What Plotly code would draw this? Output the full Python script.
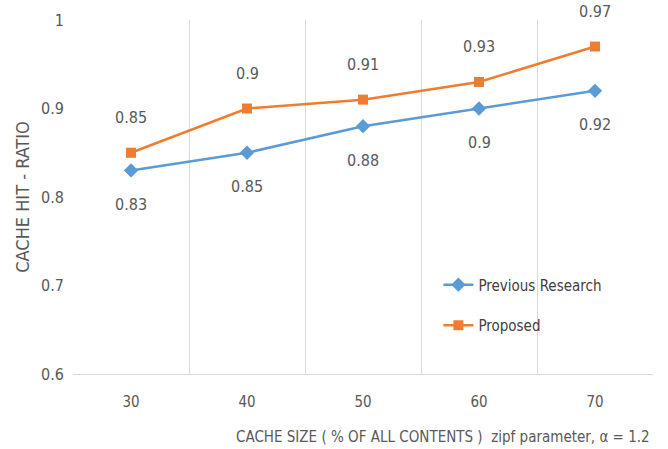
import plotly.graph_objects as go

cache_size = [30, 40, 50, 60, 70]
previous = [0.83, 0.85, 0.88, 0.90, 0.92]
proposed = [0.85, 0.90, 0.91, 0.93, 0.97]
prev_labels = ["0.83", "0.85", "0.88", "0.9", "0.92"]
prop_labels = ["0.85", "0.9", "0.91", "0.93", "0.97"]
y_ticks = [0.6, 0.7, 0.8, 0.9, 1.0]
y_tick_text = ["0.6", "0.7", "0.8", "0.9", "1"]
x_title = "CACHE SIZE ( % OF ALL CONTENTS )  zipf parameter, \u03b1 = 1.2"

BLUE = "#5B9BD5"
ORANGE = "#ED7D31"
GREY = "#595959"
GRID = "#D9D9D9"
FONT = "DejaVu Sans Condensed"

fig = go.Figure()
fig.add_trace(go.Scatter(
    x=cache_size, y=previous, name="Previous Research", mode="lines+markers",
    line=dict(color=BLUE, width=2.5),
    marker=dict(symbol="diamond", size=11, color=BLUE),
    legendgroup="a",
))
fig.add_trace(go.Scatter(
    x=cache_size, y=proposed, name="Proposed", mode="lines+markers",
    line=dict(color=ORANGE, width=2.5),
    marker=dict(symbol="square", size=10, color=ORANGE),
    legendgroup="b",
))

for x, y, t in zip(cache_size, previous, prev_labels):
    fig.add_annotation(x=x, y=y, text=t, showarrow=False, yshift=-34,
                       font=dict(family=FONT, size=16, color=GREY))
for x, y, t in zip(cache_size, proposed, prop_labels):
    fig.add_annotation(x=x, y=y, text=t, showarrow=False, yshift=35,
                       font=dict(family=FONT, size=16, color=GREY))

fig.add_annotation(xref="paper", yref="paper", x=0.998, y=-0.178,
                   xanchor="right", yanchor="middle", text=x_title, showarrow=False,
                   font=dict(family=FONT, size=15, color=GREY))

fig.update_layout(
    width=668, height=449,
    margin=dict(l=73, r=15, t=20, b=75),
    paper_bgcolor="white", plot_bgcolor="white",
    font=dict(family=FONT, size=14, color=GREY),
    showlegend=True,
    legend=dict(x=0.63, y=0.195, xanchor="left", yanchor="middle",
                bgcolor="rgba(255,255,255,0)", font=dict(family=FONT, size=15, color="#404040"),
                tracegroupgap=18, traceorder="grouped", itemwidth=30),
    xaxis=dict(
        range=[25, 75], tickvals=cache_size, ticktext=[str(v) for v in cache_size],
        showgrid=False, zeroline=False, showline=True, linecolor=GRID, linewidth=1,
        ticks="", tickfont=dict(family=FONT, size=15, color=GREY), ticklabelstandoff=14,
        minor=dict(tickvals=[25, 35, 45, 55, 65, 75], showgrid=True, gridcolor=GRID, gridwidth=1),
        fixedrange=True,
    ),
    yaxis=dict(
        range=[0.6, 1.0], tickvals=y_ticks, ticktext=y_tick_text,
        showgrid=False, zeroline=False, showline=False,
        ticks="", tickfont=dict(family=FONT, size=16, color=GREY), ticklabelstandoff=8,
        title=dict(text="CACHE HIT - RATIO", font=dict(family=FONT, size=18, color=GREY), standoff=6),
        fixedrange=True,
    ),
)

fig.write_html("out.html")
